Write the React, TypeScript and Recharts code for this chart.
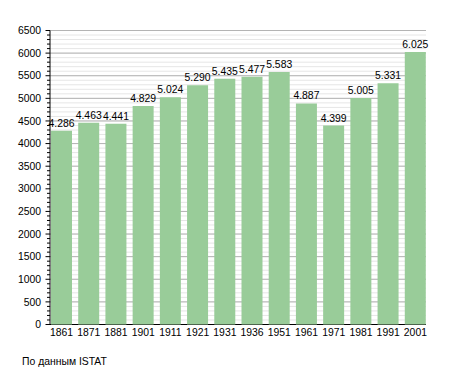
import React from 'react';
import { BarChart, Bar, XAxis, YAxis, CartesianGrid, LabelList } from 'recharts';

const years = ['1861', '1871', '1881', '1901', '1911', '1921', '1931', '1936', '1951', '1961', '1971', '1981', '1991', '2001'];
const population = [4286, 4463, 4441, 4829, 5024, 5290, 5435, 5477, 5583, 4887, 4399, 5005, 5331, 6025];
const majorTicks = [0, 500, 1000, 1500, 2000, 2500, 3000, 3500, 4000, 4500, 5000, 5500, 6000, 6500];
const minorTicks = Array.from({ length: 66 }, (_, i) => i * 100);
const sourceText = 'По данным ISTAT';

const data = years.map((y, i) => ({ year: y, value: population[i] }));

const FONT = '"Liberation Sans", Arial, sans-serif';
const FS = 10.4;

const fmt = (v: number) => {
  const s = String(v);
  return s.length > 3 ? s.slice(0, s.length - 3) + '.' + s.slice(s.length - 3) : s;
};

const YTick = (props: any) => {
  const { x, y, payload } = props;
  const v = payload.value as number;
  const major = v % 500 === 0;
  const axisX = x + 9;
  return (
    <g>
      <line x1={axisX - (major ? 4.5 : 3)} x2={axisX} y1={y} y2={y} stroke="#000" strokeWidth={1} />
      {major && (
        <text x={x} y={y} dy="0.35em" textAnchor="end" fontSize={FS} fill="#000" fontFamily={FONT}>
          {v}
        </text>
      )}
    </g>
  );
};

const GRID_X = 50;
const GRID_W = 376;
const GRID_Y = 30.5;
const GRID_H = 294;

export default function App() {
  return (
    <div style={{ width: 455, height: 373, position: 'relative', background: '#fff' }}>
      <style>{`body{margin:0}`}</style>
      <BarChart
        width={455}
        height={373}
        data={data}
        margin={{ top: 30.5, right: 26, left: 0, bottom: 0 }}
        barCategoryGap={3}
      >
        <CartesianGrid
          x={GRID_X}
          width={GRID_W}
          horizontalValues={minorTicks}
          vertical={false}
          stroke="#e6e6e6"
          strokeWidth={1}
        />
        <CartesianGrid
          x={GRID_X}
          width={GRID_W}
          horizontalValues={majorTicks}
          vertical={false}
          stroke="#b4b4b4"
          strokeWidth={1}
        />
        <XAxis
          dataKey="year"
          height={48.5}
          tickLine={false}
          tickSize={0}
          tickMargin={4}
          axisLine={false}
          interval={0}
          tick={{ fontSize: FS, fill: '#000', fontFamily: FONT }}
        />
        <YAxis
          width={48}
          domain={[0, 6500]}
          ticks={minorTicks}
          interval={0}
          tickLine={false}
          tickSize={0}
          tickMargin={7}
          axisLine={false}
          tick={<YTick />}
        />
        <Bar dataKey="value" fill="#99cc99" isAnimationActive={false}>
          <LabelList
            dataKey="value"
            position="top"
            offset={4}
            formatter={(v: any) => fmt(Number(v))}
            style={{ fontSize: FS, fill: '#000', fontFamily: FONT }}
          />
        </Bar>
        <CartesianGrid
          x={GRID_X}
          width={GRID_W}
          horizontalValues={[0]}
          vertical={false}
          stroke="#000"
          strokeWidth={1}
        />
        <CartesianGrid
          x={GRID_X}
          y={GRID_Y}
          width={GRID_W}
          height={GRID_H}
          horizontal={false}
          verticalPoints={[GRID_X]}
          stroke="#000"
          strokeWidth={1}
        />
      </BarChart>
      <div
        style={{
          position: 'absolute',
          left: 22,
          top: 356,
          fontSize: FS,
          fontFamily: FONT,
          color: '#000',
          lineHeight: '12px',
        }}
      >
        {sourceText}
      </div>
    </div>
  );
}
